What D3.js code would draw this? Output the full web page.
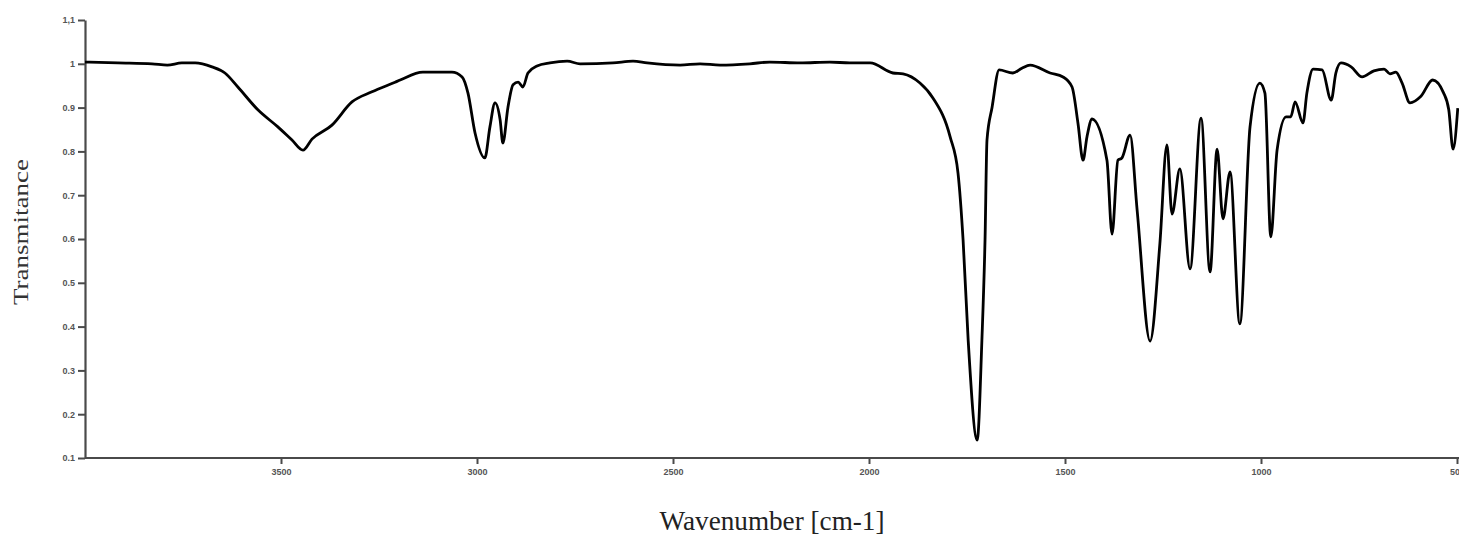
<!DOCTYPE html>
<html>
<head>
<meta charset="utf-8">
<script src="https://cdn.jsdelivr.net/npm/d3@7"></script>
<style>
  body { margin: 0; background: #fff; }
  .tick text { font-family: "Liberation Sans", Arial, sans-serif; font-weight: bold; }
</style>
</head>
<body>
<div id="chart"></div>
<script>
// spectrum
const wavenumber = [4000, 3916, 3829, 3790, 3753, 3719, 3676, 3643, 3610, 3559, 3508, 3472, 3444, 3421, 3370, 3319, 3268, 3209,
  3196, 3138, 3064, 3038, 3023, 3005, 2980, 2967, 2954, 2941, 2934, 2921, 2908, 2895, 2883, 2870, 2847, 2814, 2770, 2737, 2653,
  2602, 2566, 2482, 2431, 2380, 2304, 2253, 2176, 2100, 2049, 1997, 1939, 1913, 1870, 1837, 1793, 1773, 1760, 1747, 1724, 1712,
  1704, 1699, 1686, 1668, 1633, 1610, 1589, 1538, 1505, 1482, 1467, 1454, 1444, 1431, 1393, 1380, 1365, 1355, 1334, 1316, 1283,
  1258, 1240, 1227, 1207, 1181, 1153, 1130, 1112, 1097, 1079, 1054, 1028, 1003, 990, 975, 959, 936, 924, 913, 893, 883, 867,
  844, 821, 809, 796, 770, 742, 712, 686, 671, 656, 640, 620, 592, 562, 534, 521, 510, 498];
const transmittance = [1.004, 1.002, 1.0, 0.997, 1.002, 1.002, 0.993, 0.979, 0.947, 0.895, 0.856, 0.826, 0.803, 0.828, 0.860, 0.913, 0.936, 0.958,
  0.963, 0.981, 0.981, 0.970, 0.933, 0.842, 0.785, 0.856, 0.911, 0.872, 0.819, 0.901, 0.952, 0.958, 0.947, 0.979, 0.995, 1.002, 1.006, 1.0, 1.002,
  1.006, 1.002, 0.997, 1.0, 0.997, 1.0, 1.004, 1.002, 1.004, 1.002, 1.002, 0.979, 0.977, 0.956, 0.922, 0.833, 0.751, 0.598, 0.369, 0.141, 0.369,
  0.598, 0.826, 0.901, 0.986, 0.979, 0.990, 0.997, 0.979, 0.970, 0.947, 0.865, 0.780, 0.833, 0.874, 0.780, 0.611, 0.780, 0.785, 0.837, 0.666, 0.367,
  0.589, 0.815, 0.657, 0.760, 0.532, 0.876, 0.525, 0.805, 0.646, 0.753, 0.406, 0.856, 0.956, 0.933, 0.605, 0.803, 0.879, 0.879, 0.913, 0.865, 0.933, 0.988,
  0.986, 0.917, 0.979, 1.002, 0.993, 0.970, 0.984, 0.988, 0.977, 0.981, 0.956, 0.911, 0.926, 0.963, 0.933, 0.895, 0.805, 0.899];

const xTicks = [3500, 3000, 2500, 2000, 1500, 1000, 500];
const yTicks = [0.1, 0.2, 0.3, 0.4, 0.5, 0.6, 0.7, 0.8, 0.9, 1, 1.1];
const yTickLabels = ["0.1", "0.2", "0.3", "0.4", "0.5", "0.6", "0.7", "0.8", "0.9", "1", "1,1"];

const width = 1459;
const height = 536;

const svg = d3.select("#chart").append("svg")
    .attr("width", width)
    .attr("height", height);

const x = d3.scaleLinear().domain([4000, 500]).range([85, 1457]);
const y = d3.scaleLinear().domain([0.1, 1.1]).range([458, 20]);

// axes
const xAxis = svg.append("g")
    .attr("transform", "translate(0,458)")
    .call(d3.axisBottom(x).tickValues(xTicks).tickFormat(d3.format("d"))
        .tickSize(6).tickSizeOuter(0).tickPadding(5));
xAxis.select(".domain").attr("d", "M85,0H1459");

const yAxis = svg.append("g")
    .attr("transform", "translate(85,0)")
    .call(d3.axisLeft(y).tickValues(yTicks).tickSize(7).tickSizeOuter(0).tickPadding(3)
        .tickFormat((d, i) => yTickLabels[i]));

svg.selectAll(".domain")
    .attr("stroke", "#4a4a4a")
    .attr("stroke-width", 2.2);
svg.selectAll(".tick line")
    .attr("stroke", "#4a4a4a")
    .attr("stroke-width", 2);
svg.selectAll(".tick text")
    .attr("fill", "#555")
    .attr("font-size", 9);

// spectrum
const pts = wavenumber.map((w, i) => [w, transmittance[i]]);
const line = d3.line()
    .x(d => x(d[0]))
    .y(d => y(d[1]))
    .curve(d3.curveMonotoneX);

svg.append("path")
    .datum(pts)
    .attr("d", line)
    .attr("fill", "none")
    .attr("stroke", "#000")
    .attr("stroke-width", 2.8)
    .attr("stroke-linejoin", "round");

// axis titles
svg.append("text")
    .attr("transform", "translate(28,232) rotate(-90)")
    .attr("text-anchor", "middle")
    .attr("font-family", "Liberation Serif, Times New Roman, serif")
    .attr("font-size", 20)
    .attr("textLength", 146)
    .attr("lengthAdjust", "spacingAndGlyphs")
    .attr("fill", "#333")
    .text("Transmitance");

svg.append("text")
    .attr("x", 772)
    .attr("y", 530)
    .attr("text-anchor", "middle")
    .attr("font-family", "Liberation Serif, Times New Roman, serif")
    .attr("font-size", 28)
    .attr("textLength", 225)
    .attr("lengthAdjust", "spacingAndGlyphs")
    .attr("fill", "#222")
    .text("Wavenumber [cm-1]");
</script>
</body>
</html>
